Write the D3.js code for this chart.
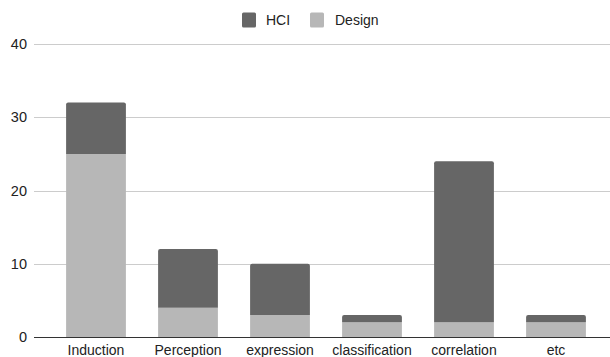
<!DOCTYPE html>
<html>
<head>
<meta charset="utf-8">
<script src="https://cdn.jsdelivr.net/npm/d3@7"></script>
<style>
  html, body { margin: 0; padding: 0; background: #fff; }
  svg { display: block; font-family: "Liberation Sans", Arial, sans-serif; }
</style>
</head>
<body>
<svg id="chart" width="610" height="357"></svg>
<script>
// Category names along the x axis
const categories = ["Induction", "Perception", "expression", "classification", "correlation", "etc"];
// Stacked series, bottom to top
const designValues = [25, 4, 3, 2, 2, 2];
const hciValues = [7, 8, 7, 1, 22, 1];
const yTicks = [0, 10, 20, 30, 40];

const seriesNames = ["Design", "HCI"];
const colors = { HCI: "#666666", Design: "#b7b7b7" };

const rows = categories.map((c, i) => ({ category: c, Design: designValues[i], HCI: hciValues[i] }));

const width = 610, height = 357;
const margin = { top: 44, right: 8, bottom: 20, left: 50 };

const svg = d3.select("#chart");

const x = d3.scaleBand()
  .domain(categories)
  .range([margin.left, width - margin.right])
  .paddingInner(0.35)
  .paddingOuter(0.175);

const y = d3.scaleLinear()
  .domain([0, 40])
  .range([height - margin.bottom, margin.top]);

// Horizontal gridlines
svg.append("g")
  .selectAll("line")
  .data(yTicks.filter(t => t !== 0))
  .join("line")
  .attr("x1", 34)
  .attr("x2", width)
  .attr("y1", d => Math.round(y(d)) + 0.5)
  .attr("y2", d => Math.round(y(d)) + 0.5)
  .attr("stroke", "#cccccc")
  .attr("stroke-width", 1);

// Y tick labels
svg.append("g")
  .selectAll("text")
  .data(yTicks)
  .join("text")
  .attr("x", 27)
  .attr("y", d => y(d))
  .attr("dy", "0.35em")
  .attr("text-anchor", "end")
  .attr("font-size", 14.5)
  .attr("fill", "#222")
  .text(d => d);

// Stacked bars
const stack = d3.stack().keys(seriesNames);
const stacked = stack(rows);
const r = 2;

stacked.forEach((layer, li) => {
  const isTop = li === stacked.length - 1;
  svg.append("g")
    .selectAll("path")
    .data(layer)
    .join("path")
    .attr("fill", colors[layer.key])
    .attr("d", d => {
      const x0 = x(d.data.category), w = x.bandwidth();
      const yTop = y(d[1]), yBot = y(d[0]);
      if (!isTop) {
        return `M${x0},${yBot}V${yTop}H${x0 + w}V${yBot}Z`;
      }
      return `M${x0},${yBot}V${yTop + r}Q${x0},${yTop} ${x0 + r},${yTop}` +
             `H${x0 + w - r}Q${x0 + w},${yTop} ${x0 + w},${yTop + r}V${yBot}Z`;
    });
});

// Baseline at zero
svg.append("line")
  .attr("x1", 34)
  .attr("x2", width)
  .attr("y1", Math.round(y(0)) + 0.5)
  .attr("y2", Math.round(y(0)) + 0.5)
  .attr("stroke", "#333333")
  .attr("stroke-width", 1);

// Category labels
svg.append("g")
  .selectAll("text")
  .data(categories)
  .join("text")
  .attr("x", d => x(d) + x.bandwidth() / 2)
  .attr("y", 355)
  .attr("text-anchor", "middle")
  .attr("font-size", 14)
  .attr("fill", "#222")
  .text(d => d);

// Legend
const legendItems = [
  { key: "HCI", x: 242, tx: 266 },
  { key: "Design", x: 310, tx: 335 }
];
const legend = svg.append("g");
legendItems.forEach(it => {
  legend.append("rect")
    .attr("x", it.x).attr("y", 12.5)
    .attr("width", 14).attr("height", 15)
    .attr("rx", 1.5)
    .attr("fill", colors[it.key]);
  legend.append("text")
    .attr("x", it.tx).attr("y", 20)
    .attr("dy", "0.35em")
    .attr("font-size", 14)
    .attr("fill", "#222")
    .text(it.key);
});
</script>
</body>
</html>
